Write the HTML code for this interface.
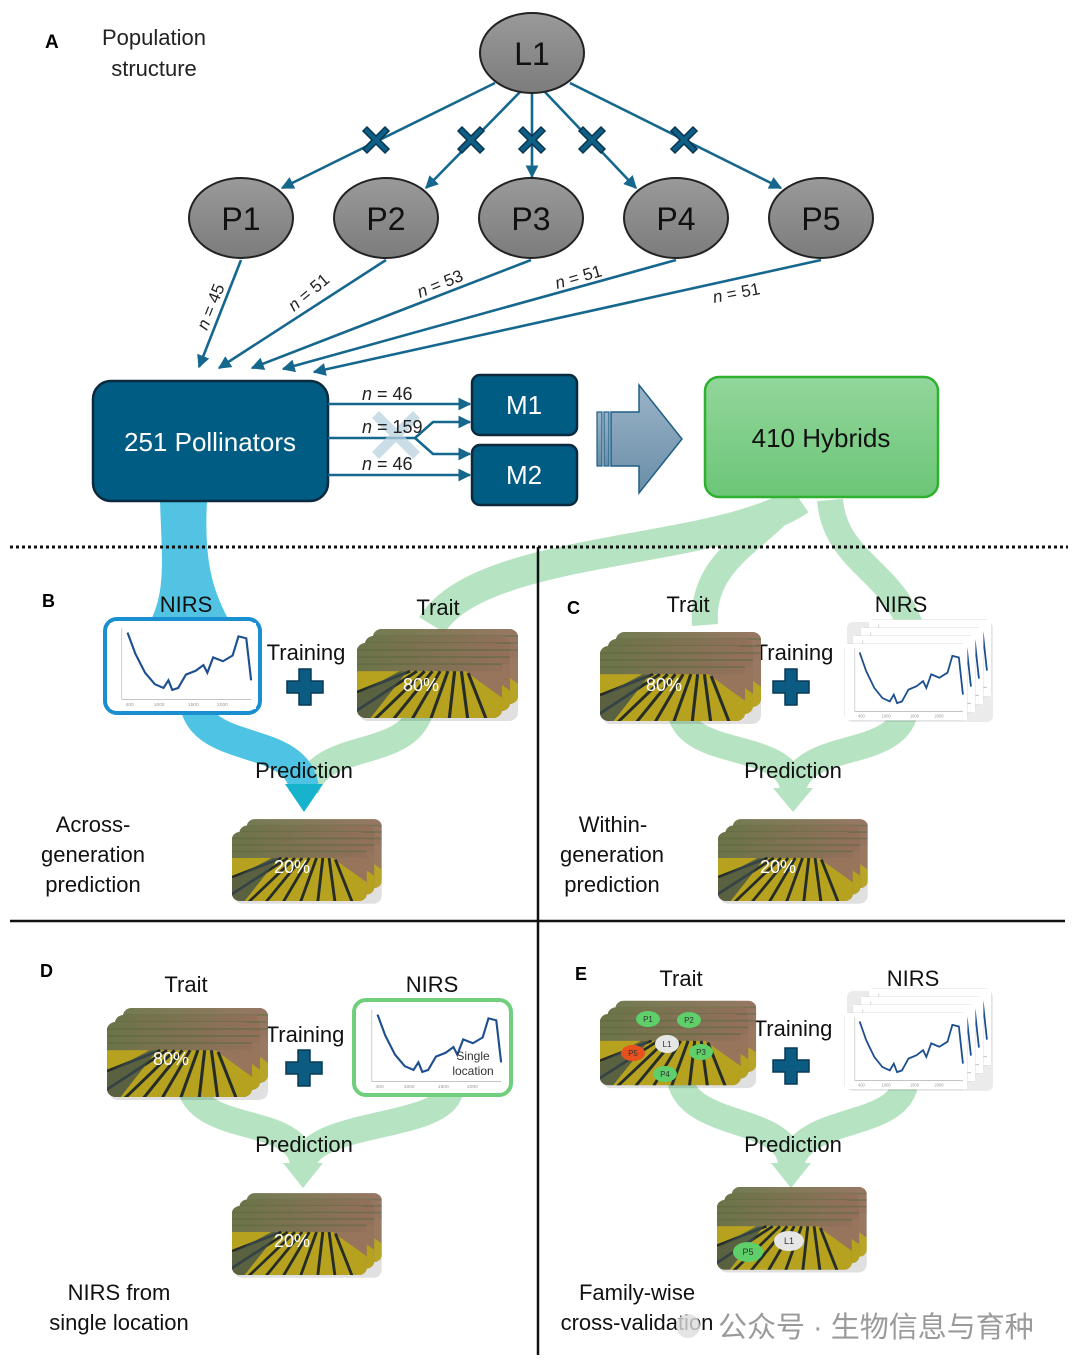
<!DOCTYPE html>
<html><head><meta charset="utf-8"><style>
html,body{margin:0;padding:0;background:#fff;}
svg{display:block;}
text{font-family:"Liberation Sans","Noto Sans CJK SC",sans-serif;}
</style></head><body>
<svg width="1080" height="1370" viewBox="0 0 1080 1370" xmlns="http://www.w3.org/2000/svg">
<defs>
  <marker id="ah" viewBox="0 0 10 10" refX="9" refY="5" markerWidth="5" markerHeight="5" orient="auto"><path d="M0,0 L10,5 L0,10 z" fill="#16678d"/></marker>
  <linearGradient id="gray" x1="0" y1="0" x2="0" y2="1"><stop offset="0" stop-color="#9a9a9a"/><stop offset="1" stop-color="#7c7c7c"/></linearGradient>
  <linearGradient id="grn" x1="0" y1="0" x2="0" y2="1"><stop offset="0" stop-color="#92d69b"/><stop offset="1" stop-color="#6cc677"/></linearGradient>
  <linearGradient id="arw" x1="0" y1="0" x2="0" y2="1"><stop offset="0" stop-color="#9ab3c7"/><stop offset="1" stop-color="#6a8ea8"/></linearGradient>
  <linearGradient id="sky" x1="0" y1="0" x2="1" y2="0"><stop offset="0" stop-color="#6b7448"/><stop offset="1" stop-color="#93705c"/></linearGradient>
  <clipPath id="fc"><rect x="0" y="0" width="150" height="85" rx="9"/></clipPath>
  <symbol id="fld" viewBox="0 0 150 85" preserveAspectRatio="none">
    <g clip-path="url(#fc)">
      <rect width="150" height="85" fill="#97745c"/>
      <rect width="150" height="32" fill="url(#sky)"/>
      <path d="M0,8 H150 M0,16 H150 M0,24 H150" stroke="#5d6a40" stroke-width="2" opacity=".6"/>
      <polygon points="0,32 112,32 150,62 150,85 0,85" fill="#b6a21e"/>
      <g stroke="#262d28" stroke-width="3.2">
        <line x1="-10" y1="60" x2="55" y2="32"/><line x1="-5" y1="80" x2="62" y2="32"/>
        <line x1="15" y1="90" x2="70" y2="32"/><line x1="35" y1="90" x2="78" y2="32"/>
        <line x1="55" y1="90" x2="86" y2="32"/><line x1="75" y1="90" x2="94" y2="32"/>
        <line x1="95" y1="90" x2="101" y2="32"/><line x1="115" y1="90" x2="108" y2="32"/>
        <line x1="135" y1="90" x2="115" y2="34"/>
      </g>
      <polygon points="0,58 44,32 52,32 14,85 0,85" fill="#3b4b4e" opacity=".75"/>
    </g>
  </symbol>
  <symbol id="spc" viewBox="0 0 150 90" preserveAspectRatio="none">
    <rect width="150" height="90" fill="#fff"/>
    <line x1="12" y1="80" x2="145" y2="80" stroke="#bbb" stroke-width="1"/>
    <line x1="12" y1="5" x2="12" y2="80" stroke="#ccc" stroke-width="1"/>
    <polyline fill="none" stroke="#1d4f8f" stroke-width="2.2" points="18,10 26,32 36,52 46,64 55,68 60,60 64,70 70,68 78,54 88,50 96,44 100,52 106,36 116,40 126,34 132,14 140,16 145,60"/>
    <g fill="#999" font-size="5"><text x="16" y="87">400</text><text x="45" y="87">1000</text><text x="80" y="87">1500</text><text x="110" y="87">2000</text></g>
  </symbol>
  <g id="fstack">
    <rect x="2" y="3" width="159" height="75" rx="9" fill="#000" opacity=".12"/>
    <use href="#fld" x="16" y="-14" width="145" height="75" opacity=".95"/>
    <use href="#fld" x="8" y="-7" width="145" height="75"/>
    <use href="#fld" x="0" y="0" width="145" height="75"/>
  </g>
  <g id="sstack">
    <rect x="2" y="-22" width="146" height="100" rx="6" fill="#000" opacity=".08"/>
    <rect x="24" y="-24" width="122" height="76" rx="5" fill="#fff" stroke="#ddd"/>
    <use href="#spc" x="24" y="-24" width="122" height="76"/>
    <rect x="16" y="-16" width="122" height="76" rx="5" fill="#fff" stroke="#ddd"/>
    <use href="#spc" x="16" y="-16" width="122" height="76"/>
    <rect x="8" y="-8" width="122" height="76" rx="5" fill="#fff" stroke="#ddd"/>
    <use href="#spc" x="8" y="-8" width="122" height="76"/>
    <rect x="0" y="0" width="122" height="76" rx="5" fill="#fff" stroke="#ddd"/>
    <use href="#spc" x="0" y="0" width="122" height="76"/>
  </g>
  <g id="plus"><path d="M-6,-18 H6 V-6 H18 V6 H6 V18 H-6 V6 H-18 V-6 H-6 Z" fill="#0c5b82" stroke="#083a56" stroke-width="1.5"/></g>
  <g id="xm"><path d="M-13,-9 L-9,-13 L0,-4 L9,-13 L13,-9 L4,0 L13,9 L9,13 L0,4 L-9,13 L-13,9 L-4,0 Z" fill="#0e5f86" stroke="#08344e" stroke-width="1.5"/></g>
</defs>

<!-- flows -->
<path d="M160,501 L207,501 C204,560 212,590 230,622 L150,622 C166,590 162,560 160,501Z" fill="#52c3e3"/>
<path d="M800,500 C720,555 480,545 432,625" stroke="#b6e3c1" stroke-width="30" fill="none"/>
<path d="M790,500 C760,540 700,560 705,625" stroke="#b6e3c1" stroke-width="26" fill="none"/>
<path d="M830,500 C835,560 890,570 910,625" stroke="#b6e3c1" stroke-width="26" fill="none"/>
<path d="M420,712 C405,760 320,740 306,790" stroke="#b6e3c1" stroke-width="26" fill="none"/>
<path d="M195,705 C205,755 300,735 304,790" stroke="#4ec3e3" stroke-width="30" fill="none"/>
<polygon points="285,784 323,784 304,812" fill="#17b3cc"/>
<path d="M680,712 C690,760 790,740 793,790 M905,712 C895,760 800,740 793,790" stroke="#b6e3c1" stroke-width="26" fill="none"/>
<polygon points="773,788 813,788 793,812" fill="#b6e3c1"/>
<path d="M190,1088 C205,1135 300,1115 303,1165 M450,1092 C440,1130 310,1120 303,1165" stroke="#b6e3c1" stroke-width="26" fill="none"/>
<polygon points="283,1163 323,1163 303,1188" fill="#b6e3c1"/>
<path d="M680,1080 C690,1130 790,1115 791,1165 M905,1085 C895,1130 800,1115 791,1165" stroke="#b6e3c1" stroke-width="26" fill="none"/>
<polygon points="771,1163 811,1163 791,1188" fill="#b6e3c1"/>

<!-- dividers -->
<line x1="10" y1="547" x2="1068" y2="547" stroke="#111" stroke-width="3" stroke-dasharray="3,3"/>
<line x1="538" y1="547" x2="538" y2="1355" stroke="#111" stroke-width="2.5"/>
<line x1="10" y1="921" x2="1065" y2="921" stroke="#111" stroke-width="2.5"/>

<!-- A -->
<text x="45" y="48" font-size="19" font-weight="bold">A</text>
<text x="154" y="45" font-size="22" text-anchor="middle" fill="#222">Population</text>
<text x="154" y="76" font-size="22" text-anchor="middle" fill="#222">structure</text>

<g stroke="#16678d" stroke-width="2.6" fill="none" marker-end="url(#ah)">
  <line x1="495" y1="83" x2="282" y2="188"/>
  <line x1="520" y1="92" x2="426" y2="188"/>
  <line x1="532" y1="94" x2="532" y2="177"/>
  <line x1="545" y1="92" x2="636" y2="188"/>
  <line x1="570" y1="83" x2="781" y2="188"/>
  <line x1="241" y1="260" x2="199" y2="367"/>
  <line x1="386" y1="260" x2="219" y2="368"/>
  <line x1="531" y1="260" x2="252" y2="368"/>
  <line x1="676" y1="260" x2="283" y2="369"/>
  <line x1="821" y1="260" x2="314" y2="372"/>
</g>
<use href="#xm" x="376" y="140"/><use href="#xm" x="471" y="140"/><use href="#xm" x="532" y="140"/><use href="#xm" x="592" y="140"/><use href="#xm" x="684" y="140"/>

<g stroke="#222" stroke-width="2" fill="url(#gray)">
  <ellipse cx="532" cy="53" rx="52" ry="40"/>
  <ellipse cx="241" cy="218" rx="52" ry="40"/><ellipse cx="386" cy="218" rx="52" ry="40"/>
  <ellipse cx="531" cy="218" rx="52" ry="40"/><ellipse cx="676" cy="218" rx="52" ry="40"/>
  <ellipse cx="821" cy="218" rx="52" ry="40"/>
</g>
<g font-size="32" text-anchor="middle" fill="#111">
  <text x="532" y="65">L1</text><text x="241" y="230">P1</text><text x="386" y="230">P2</text>
  <text x="531" y="230">P3</text><text x="676" y="230">P4</text><text x="821" y="230">P5</text>
</g>
<g font-size="17" fill="#222">
  <text transform="translate(207,331) rotate(-68)"><tspan font-style="italic">n</tspan> = 45</text>
  <text transform="translate(294,312) rotate(-40)"><tspan font-style="italic">n</tspan> = 51</text>
  <text transform="translate(420,298) rotate(-22)"><tspan font-style="italic">n</tspan> = 53</text>
  <text transform="translate(557,289) rotate(-16)"><tspan font-style="italic">n</tspan> = 51</text>
  <text transform="translate(714,303) rotate(-11)"><tspan font-style="italic">n</tspan> = 51</text>
</g>

<rect x="93" y="381" width="235" height="120" rx="18" fill="#005c82" stroke="#0b2a3e" stroke-width="2.5"/>
<text x="210" y="451" font-size="26" fill="#fff" text-anchor="middle">251 Pollinators</text>
<g stroke="#16678d" stroke-width="2.6" fill="none" marker-end="url(#ah)">
  <line x1="328" y1="404" x2="470" y2="404"/>
  <path d="M328,438 H415 L433,422 H470"/>
  <path d="M415,438 L433,454 H470"/>
  <line x1="328" y1="475" x2="470" y2="475"/>
</g>
<path d="M372,418 l7,-7 l17,17 l17,-17 l7,7 l-17,17 l17,17 l-7,7 l-17,-17 l-17,17 l-7,-7 l17,-17 z" fill="#b9d3e0" opacity=".75"/>
<g font-size="18" fill="#222">
  <text x="362" y="400"><tspan font-style="italic">n</tspan> = 46</text>
  <text x="362" y="433"><tspan font-style="italic">n</tspan> = 159</text>
  <text x="362" y="470"><tspan font-style="italic">n</tspan> = 46</text>
</g>
<rect x="472" y="375" width="105" height="60" rx="8" fill="#005c82" stroke="#0b2a3e" stroke-width="2.5"/>
<rect x="472" y="445" width="105" height="60" rx="8" fill="#005c82" stroke="#0b2a3e" stroke-width="2.5"/>
<text x="524" y="414" font-size="26" fill="#fff" text-anchor="middle">M1</text>
<text x="524" y="484" font-size="26" fill="#fff" text-anchor="middle">M2</text>

<path d="M611,412 H639 V385 L682,439 L639,493 V466 H611 Z" fill="url(#arw)" stroke="#1f5f86" stroke-width="1.5"/>
<rect x="597" y="412" width="5" height="54" fill="url(#arw)" stroke="#1f5f86" stroke-width="1.2"/>
<rect x="604" y="412" width="5" height="54" fill="url(#arw)" stroke="#1f5f86" stroke-width="1.2"/>

<rect x="705" y="377" width="233" height="120" rx="14" fill="url(#grn)" stroke="#2fb02f" stroke-width="2.5"/>
<text x="821" y="447" font-size="26" fill="#111" text-anchor="middle">410 Hybrids</text>

<!-- B -->
<text x="42" y="607" font-size="18" font-weight="bold">B</text>
<g font-size="22" fill="#111" text-anchor="middle">
<text x="186" y="612">NIRS</text><text x="438" y="615">Trait</text><text x="306" y="660">Training</text><text x="304" y="778">Prediction</text>
<text x="93" y="832">Across-</text><text x="93" y="862">generation</text><text x="93" y="892">prediction</text>
</g>
<rect x="105" y="619" width="155" height="94" rx="12" fill="#fff" stroke="#1a8fd0" stroke-width="4"/>
<use href="#spc" x="110" y="623" width="146" height="86"/>
<use href="#plus" x="305" y="687"/>
<use href="#fstack" transform="translate(357,643)"/>
<text x="421" y="691" font-size="18" fill="#fff" text-anchor="middle">80%</text>
<use href="#fstack" transform="translate(232,832) scale(0.93,0.92)"/>
<text x="292" y="873" font-size="18" fill="#fff" text-anchor="middle">20%</text>

<!-- C -->
<text x="567" y="614" font-size="18" font-weight="bold">C</text>
<g font-size="22" fill="#111" text-anchor="middle">
<text x="688" y="612">Trait</text><text x="901" y="612">NIRS</text><text x="794" y="660">Training</text><text x="793" y="778">Prediction</text>
<text x="613" y="832">Within-</text><text x="612" y="862">generation</text><text x="612" y="892">prediction</text>
</g>
<use href="#fstack" transform="translate(600,646)"/>
<text x="664" y="691" font-size="18" fill="#fff" text-anchor="middle">80%</text>
<use href="#sstack" transform="translate(845,644)"/>
<use href="#plus" x="791" y="687"/>
<use href="#fstack" transform="translate(718,832) scale(0.93,0.92)"/>
<text x="778" y="873" font-size="18" fill="#fff" text-anchor="middle">20%</text>

<!-- D -->
<text x="40" y="977" font-size="18" font-weight="bold">D</text>
<g font-size="22" fill="#111" text-anchor="middle">
<text x="186" y="992">Trait</text><text x="432" y="992">NIRS</text><text x="305" y="1042">Training</text><text x="304" y="1152">Prediction</text>
<text x="119" y="1300">NIRS from</text><text x="119" y="1330">single location</text>
</g>
<use href="#fstack" transform="translate(107,1022)"/>
<text x="171" y="1065" font-size="18" fill="#fff" text-anchor="middle">80%</text>
<rect x="354" y="1000" width="157" height="95" rx="12" fill="#fff" stroke="#6fcf7c" stroke-width="4"/>
<use href="#spc" x="360" y="1005" width="146" height="86"/>
<text x="473" y="1060" font-size="12" fill="#333" text-anchor="middle">Single</text>
<text x="473" y="1075" font-size="12" fill="#333" text-anchor="middle">location</text>
<use href="#plus" x="304" y="1068"/>
<use href="#fstack" transform="translate(232,1206) scale(0.93,0.92)"/>
<text x="292" y="1247" font-size="18" fill="#fff" text-anchor="middle">20%</text>

<!-- E -->
<text x="575" y="980" font-size="18" font-weight="bold">E</text>
<g font-size="22" fill="#111" text-anchor="middle">
<text x="681" y="986">Trait</text><text x="913" y="986">NIRS</text><text x="793" y="1036">Training</text><text x="793" y="1152">Prediction</text>
<text x="637" y="1300">Family-wise</text><text x="637" y="1330">cross-validation</text>
</g>
<use href="#fstack" transform="translate(600,1014) scale(0.97,0.95)"/>
<g font-size="8" text-anchor="middle" fill="#333">
  <ellipse cx="648" cy="1019" rx="12" ry="8" fill="#5fcf6a"/><text x="648" y="1022">P1</text>
<ellipse cx="689" cy="1020" rx="12" ry="8" fill="#5fcf6a"/><text x="689" y="1023">P2</text>
  <ellipse cx="667" cy="1044" rx="12" ry="9" fill="#e6e6e6"/><text x="667" y="1047">L1</text>
  <ellipse cx="633" cy="1053" rx="12" ry="8" fill="#e8501e"/><text x="633" y="1056">P5</text>
  <ellipse cx="701" cy="1052" rx="12" ry="8" fill="#5fcf6a"/><text x="701" y="1055">P3</text>
  <ellipse cx="665" cy="1074" rx="12" ry="8" fill="#5fcf6a"/><text x="665" y="1077">P4</text>
</g>
<use href="#sstack" transform="translate(845,1013)"/>
<use href="#plus" x="791" y="1066"/>
<use href="#fstack" transform="translate(717,1200) scale(0.93,0.93)"/>
<g font-size="9" text-anchor="middle" fill="#333">
  <ellipse cx="789" cy="1241" rx="15" ry="10" fill="#e6e6e6"/><text x="789" y="1244">L1</text>
  <ellipse cx="748" cy="1252" rx="15" ry="10" fill="#5fcf6a"/><text x="748" y="1255">P5</text>
</g>

<!-- watermark -->
<circle cx="688" cy="1326" r="12" fill="#ddd" opacity=".8"/>
<text x="718" y="1337" font-size="29" fill="#9a9a9a">公众号 · 生物信息与育种</text>
</svg>
</body></html>
